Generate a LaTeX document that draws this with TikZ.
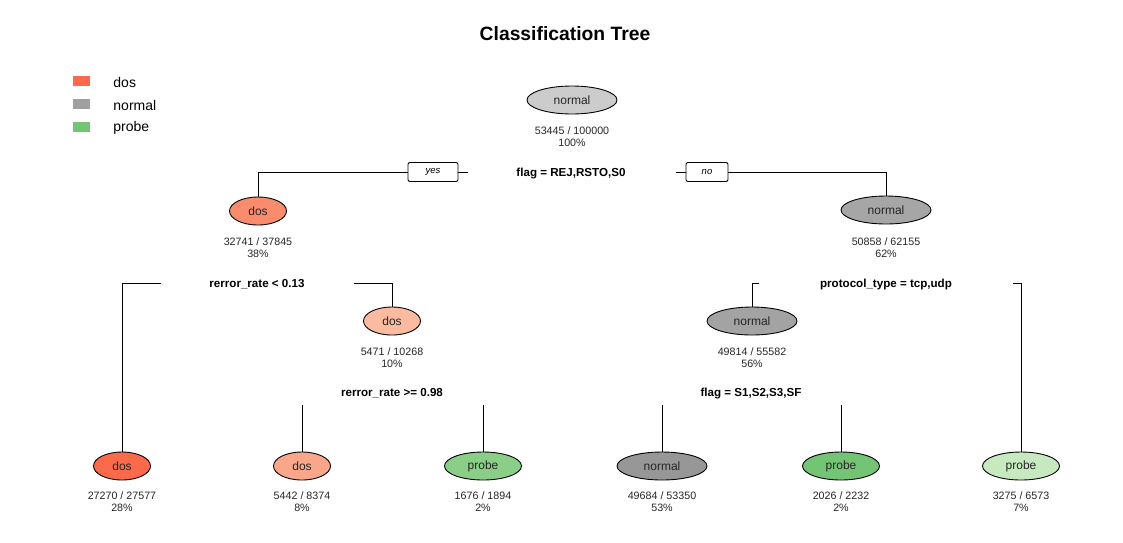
\documentclass[tikz,border=0pt]{standalone}
\usepackage{fontspec}
\setmainfont{Liberation Sans}
\usetikzlibrary{shapes.geometric}
\definecolor{dosL}{RGB}{252,106,76}
\definecolor{dosA}{RGB}{250,140,110}
\definecolor{dosB}{RGB}{251,187,160}
\definecolor{dosC}{RGB}{250,166,138}
\definecolor{normL}{RGB}{160,160,160}
\definecolor{normR}{RGB}{204,204,204}
\definecolor{normA}{RGB}{166,166,166}
\definecolor{normB}{RGB}{163,163,163}
\definecolor{normC}{RGB}{151,151,151}
\definecolor{probL}{RGB}{116,196,118}
\definecolor{probA}{RGB}{138,206,135}
\definecolor{probB}{RGB}{116,196,118}
\definecolor{probC}{RGB}{199,233,192}
\tikzset{
  every path/.style={line width=0.9pt},
  tnode/.style={draw=black, ellipse, inner sep=0pt, minimum height=28pt, text=black!85,
    font=\fontsize{12}{14}\selectfont},
  wdos/.style={tnode, minimum width=57pt},
  wnorm/.style={tnode, minimum width=90pt},
  wprob/.style={tnode, minimum width=77pt},
  info/.style={align=center, inner sep=0pt, font=\fontsize{10.7}{12}\selectfont, text=black!85, yshift=-1pt},
  split/.style={inner sep=0pt, font=\fontsize{11.6}{13}\selectfont\bfseries, yshift=-1.5pt},
  yn/.style={draw=black, rounded corners=2pt, minimum height=19pt, inner sep=0pt,
    font=\fontsize{9.5}{11}\selectfont\itshape},
  legsq/.style={minimum width=17pt, minimum height=10pt, inner sep=0pt},
  legtx/.style={anchor=west, inner sep=0pt, font=\fontsize{14}{16}\selectfont}
}
\begin{document}
\begin{tikzpicture}[x=1pt,y=-1pt]
\useasboundingbox (0,0) rectangle (1123,542);
% title
\node[font=\fontsize{19.3}{22}\selectfont\bfseries] (title) at (565,34) {Classification Tree};
% legend
\node[legsq, fill=dosL] (lg1) at (81.5,81) {};
\node[legsq, fill=normL] (lg2) at (81.5,104) {};
\node[legsq, fill=probL] (lg3) at (81.5,127) {};
\node[legtx] (lt1) at (113,82) {dos};
\node[legtx] (lt2) at (113,105) {normal};
\node[legtx] (lt3) at (113,128) {probe};
% root
\node[wnorm, fill=normR] (root) at (572,100) {normal};
\node[info] (iroot) at (572,136) {53445 / 100000\\100\%};
\node[split] (s1) at (571,172) {flag = REJ,RSTO,S0};
\node[yn, minimum width=50pt] (yes) at (433,172) {yes};
\node[yn, minimum width=42pt] (no) at (707,172) {no};
\coordinate (s1l) at (468,172);
\coordinate (s1r) at (676,172);
% level 1
\node[wdos, fill=dosA] (d1) at (258,211) {dos};
\node[info] (id1) at (258,247) {32741 / 37845\\38\%};
\node[wnorm, fill=normA] (n1) at (886,210) {normal};
\node[info] (in1) at (886,247) {50858 / 62155\\62\%};
\node[split] (s2) at (257,283) {rerror\_rate < 0.13};
\coordinate (s2l) at (161,283);
\coordinate (s2r) at (354,283);
\node[split] (s3) at (886,283) {protocol\_type = tcp,udp};
\coordinate (s3l) at (759,283);
\coordinate (s3r) at (1013,283);
% level 2
\node[wdos, fill=dosB] (d2) at (392,321) {dos};
\node[info] (id2) at (392,357) {5471 / 10268\\10\%};
\node[wnorm, fill=normB] (n2) at (752,321) {normal};
\node[info] (in2) at (752,357) {49814 / 55582\\56\%};
\node[split] (s4) at (392,392) {rerror\_rate >= 0.98};
\coordinate (s4l) at (302,405);
\coordinate (s4r) at (483,405);
\node[split] (s5) at (751,392) {flag = S1,S2,S3,SF};
\coordinate (s5l) at (662,405);
\coordinate (s5r) at (841,405);
% leaves
\node[wdos, fill=dosL] (f1) at (122,466) {dos};
\node[info] (if1) at (122,501) {27270 / 27577\\28\%};
\node[wdos, fill=dosC] (f2) at (302,466) {dos};
\node[info] (if2) at (302,501) {5442 / 8374\\8\%};
\node[wprob, fill=probA] (f3) at (483,466) {probe};
\node[info] (if3) at (483,501) {1676 / 1894\\2\%};
\node[wnorm, fill=normC] (f4) at (662,466) {normal};
\node[info] (if4) at (662,501) {49684 / 53350\\53\%};
\node[wprob, fill=probB] (f5) at (841,466) {probe};
\node[info] (if5) at (841,501) {2026 / 2232\\2\%};
\node[wprob, fill=probC] (f6) at (1021,466) {probe};
\node[info] (if6) at (1021,501) {3275 / 6573\\7\%};
% connectors
\draw (d1.north) |- (yes.west);
\draw (yes.east) -- (s1l);
\draw (s1r) -- (no.west);
\draw (no.east) -| (n1.north);
\draw (s2l) -| (f1.north);
\draw (s2r) -| (d2.north);
\draw (s3l) -| (n2.north);
\draw (s3r) -| (f6.north);
\draw (s4l) -- (f2.north);
\draw (s4r) -- (f3.north);
\draw (s5l) -- (f4.north);
\draw (s5r) -- (f5.north);
\end{tikzpicture}
\end{document}
